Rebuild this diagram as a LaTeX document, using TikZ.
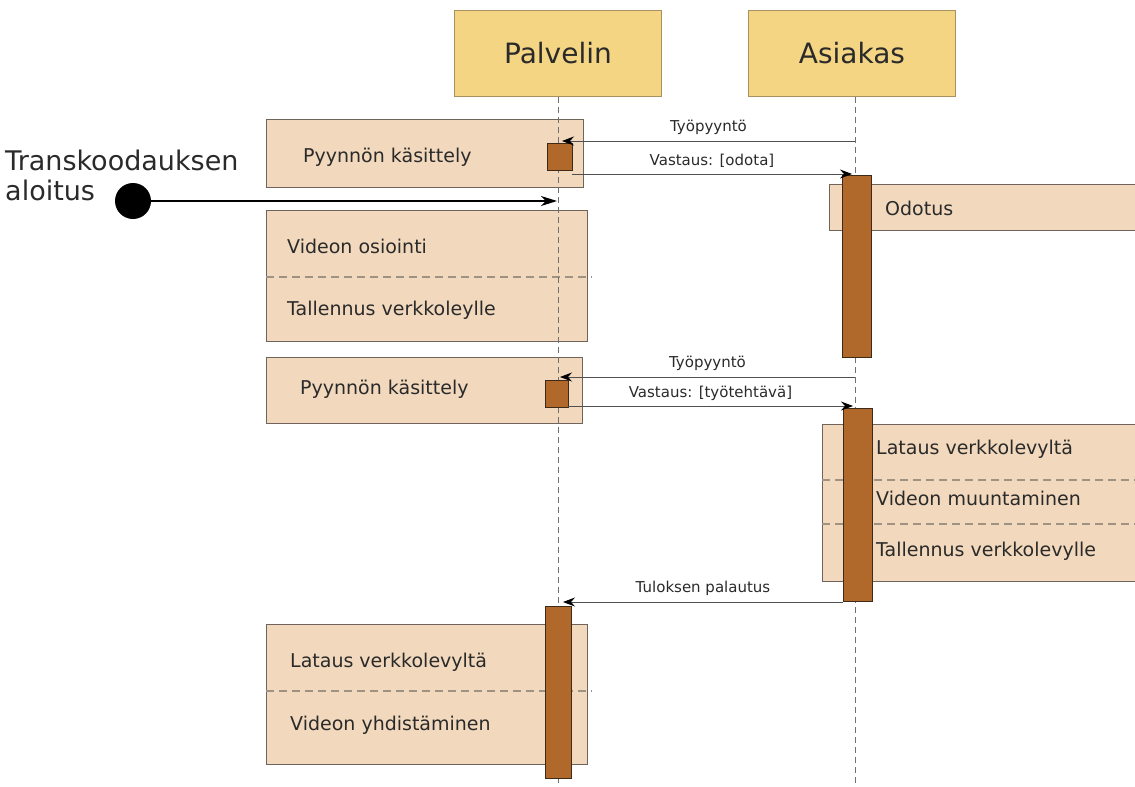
\documentclass[tikz,border=0pt]{standalone}
\usepackage{fontspec}
\setmainfont{DejaVu Sans}
\usetikzlibrary{arrows.meta}
\definecolor{headfill}{HTML}{F4D584}
\definecolor{headedge}{HTML}{A89060}
\definecolor{peach}{HTML}{F2D9BD}
\definecolor{peachedge}{HTML}{6E645A}
\definecolor{actfill}{HTML}{B0692A}
\definecolor{actedge}{HTML}{3E2A18}
\definecolor{lifegray}{HTML}{707070}
\definecolor{sepgray}{HTML}{A09282}
\definecolor{msggray}{HTML}{505050}
\definecolor{txt}{HTML}{2A2A2A}
\tikzset{
  head/.style={draw=headedge, fill=headfill, line width=0.9pt, anchor=north west, minimum width=207pt, minimum height=86pt, inner sep=0pt, font=\fontsize{28}{30}\selectfont, text=txt},
  pbox/.style={draw=peachedge, fill=peach, line width=0.9pt, anchor=north west, inner sep=0pt},
  act/.style={draw=actedge, fill=actfill, line width=0.9pt, anchor=north west, inner sep=0pt},
  lifeline/.style={draw=lifegray, line width=1pt, dash pattern=on 6pt off 4pt},
  sep/.style={draw=sepgray, line width=1.4pt, dash pattern=on 8pt off 5pt},
  boxtext/.style={anchor=west, inner sep=0pt, font=\fontsize{19}{21}\selectfont, text=txt},
  msg/.style={draw=msggray, line width=0.9pt, -{Stealth[length=12pt,width=9pt,inset=4pt,black]}},
  msglabel/.style={inner sep=0pt, font=\fontsize{15}{17}\selectfont, text=txt},
}
\begin{document}
\begin{tikzpicture}[x=1pt,y=-1pt]
\useasboundingbox (0,0) rectangle (1135,787);
% headers
\node[head] (srv) at (454,10) {Palvelin};
\node[head] (cli) at (748,10) {Asiakas};
% boxes
\node[pbox, minimum width=317pt, minimum height=68pt] (b1) at (266,119) {};
\node[boxtext] (t1) at (303,157) {Pyynnön käsittely};
\node[pbox, minimum width=321pt, minimum height=131pt] (b2) at (266,210) {};
\node[boxtext] (t2a) at (287,246) {Videon osiointi};
\node[boxtext] (t2b) at (287,310) {Tallennus verkkoleylle};
\draw[sep] (b2.west |- 0,277) -- (592,277);
\node[pbox, minimum width=316pt, minimum height=66pt] (b3) at (266,357) {};
\node[boxtext] (t3) at (300,389) {Pyynnön käsittely};
\node[pbox, minimum width=321pt, minimum height=140pt] (b4) at (266,624) {};
\node[boxtext] (t4a) at (290,662) {Lataus verkkolevyltä};
\node[boxtext] (t4b) at (290,725) {Videon yhdistäminen};
\draw[sep] (b4.west |- 0,691) -- (592,691);
\node[pbox, minimum width=320pt, minimum height=46pt] (b5) at (829,184) {};
\node[boxtext] (t5) at (885,208) {Odotus};
\node[pbox, minimum width=320pt, minimum height=157pt] (b6) at (822,424) {};
\node[boxtext] (t6a) at (876,449) {Lataus verkkolevyltä};
\node[boxtext] (t6b) at (876,498) {Videon muuntaminen};
\node[boxtext] (t6c) at (876,551) {Tallennus verkkolevylle};
\draw[sep] (822,480) -- (1135,480);
\draw[sep] (822,524) -- (1135,524);
% lifelines
\coordinate (srvend) at (558,787);
\coordinate (cliend) at (855,787);
\draw[lifeline] (srv.south -| srvend) -- (srvend);
\draw[lifeline] (cli.south -| cliend) -- (cliend);
% activation bars
\node[act, minimum width=25pt, minimum height=27pt] (sq1) at (547,143) {};
\node[act, minimum width=29pt, minimum height=182pt] (a1) at (842,175) {};
\node[act, minimum width=23pt, minimum height=27pt] (sq2) at (545,380) {};
\node[act, minimum width=29pt, minimum height=193pt] (a2) at (843,408) {};
\node[act, minimum width=26pt, minimum height=172pt] (a3) at (545,606) {};
% messages
\coordinate (m1s) at (855,141);
\coordinate (m1e) at (562,141);
\draw[msg] (m1s) -- (m1e) node[msglabel, midway, above=6pt] (l1) {Työpyyntö};
\coordinate (m2s) at (572,174);
\coordinate (m2e) at (852,174);
\draw[msg] (m2s) -- (m2e) node[msglabel, midway, above=6pt] (l2) {Vastaus: [odota]};
\coordinate (m3s) at (855,377);
\coordinate (m3e) at (560,377);
\draw[msg] (m3s) -- (m3e) node[msglabel, midway, above=6pt] (l3) {Työpyyntö};
\coordinate (m4s) at (568,406);
\coordinate (m4e) at (853,406);
\draw[msg] (m4s) -- (m4e) node[msglabel, midway, above=5pt] (l4) {Vastaus: [työtehtävä]};
\coordinate (m5s) at (843,602);
\coordinate (m5e) at (563,602);
\draw[msg] (m5s) -- (m5e) node[msglabel, midway, above=6pt] (l5) {Tuloksen palautus};
% start
\node[circle, fill=black, minimum size=36pt, inner sep=0pt] (start) at (133,201) {};
\node[anchor=north west, inner sep=0pt, align=left, font=\fontsize{27}{30}\selectfont, text=txt] (st) at (5,150) {Transkoodauksen\\aloitus};
\coordinate (startend) at (557,201);
\draw[line width=1.4pt, -{Stealth[length=16pt,width=10pt,inset=5pt]}] (start) -- (startend);
\end{tikzpicture}
\end{document}
